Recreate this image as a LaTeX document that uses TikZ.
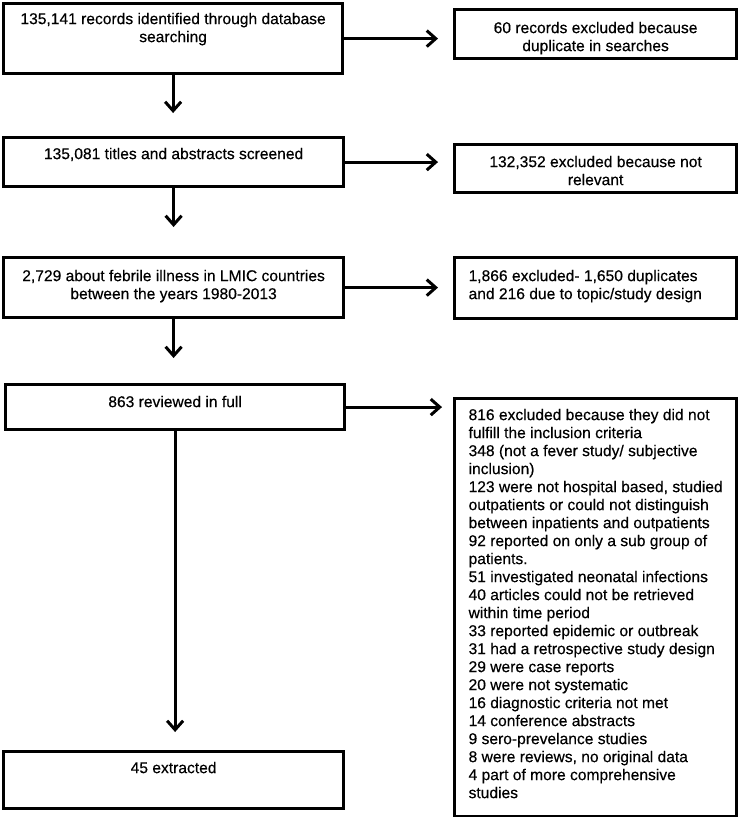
\documentclass[tikz,border=0pt]{standalone}
\usepackage{fontspec}
\setmainfont{Liberation Sans}[FakeBold=0.4]
\usetikzlibrary{arrows.meta}
\newcommand{\fs}{\fontsize{15.6pt}{18pt}\selectfont}
\newcommand{\bxc}[4]{\parbox[t][#2][t]{#1}{\vspace*{#3}\centering\strut #4}}
\newcommand{\bxl}[4]{\parbox[t][#2][t]{#1}{\vspace*{#3}\raggedright\leftskip=14pt\rightskip=-60pt plus 1fil\strut #4}}
\tikzset{
  box/.style={draw, line width=3.2pt, inner sep=0pt, anchor=north west, font=\fs},
  flow/.style={line width=3pt, -{Straight Barb[length=9pt,width=16pt]}},
}
\begin{document}
\begin{tikzpicture}[x=1pt,y=-1pt]
\useasboundingbox (0,0) rectangle (737,817);
% left column
\node[box] (b1) at (2,2) {\bxc{339pt}{70pt}{7.9pt}{135,141 records identified through database\\searching}};
\node[box] (b2) at (2,136) {\bxc{340pt}{49pt}{8.9pt}{135,081 titles and abstracts screened}};
\node[box] (b3) at (2,256) {\bxc{340pt}{60pt}{10.9pt}{2,729 about febrile illness in LMIC countries\\between the years 1980-2013}};
\node[box] (b4) at (4,383) {\bxc{339pt}{45pt}{9.9pt}{863 reviewed in full}};
\node[box] (b5) at (2,750) {\bxc{340pt}{57pt}{8.9pt}{45 extracted}};
% right column
\node[box] (r1) at (453,8) {\bxc{282pt}{49pt}{10.9pt}{60 records excluded because\\duplicate in searches}};
\node[box] (r2) at (453,143) {\bxc{282pt}{48pt}{9.9pt}{132,352 excluded because not\\relevant}};
\node[box] (r3) at (453,256) {\bxl{282pt}{61pt}{10.9pt}{1,866 excluded- 1,650 duplicates\\and 216 due to topic/study design}};
\node[box] (r4) at (453,397) {\bxl{282pt}{418pt}{8.9pt}{816 excluded because they did not\\
fulfill the inclusion criteria\\
348 (not a fever study/ subjective\\
inclusion)\\
123 were not hospital based, studied\\
outpatients or could not distinguish\\
between inpatients and outpatients\\
92 reported on only a sub group of\\
patients.\\
51 investigated neonatal infections\\
40 articles could not be retrieved\\
within time period\\
33 reported epidemic or outbreak\\
31 had a retrospective study design\\
29 were case reports\\
20 were not systematic\\
16 diagnostic criteria not met\\
14 conference abstracts\\
9 sero-prevelance studies\\
8 were reviews, no original data\\
4 part of more comprehensive\\
studies}};
% connectors
\draw[flow, shorten >=15pt] (b1.east) -- (b1.east -| r1.west);
\draw[flow, shorten >=23pt] (b1.south) -- (b1.south |- b2.north);
\draw[flow, shorten >=15pt] (b2.east) -- (b2.east -| r2.west);
\draw[flow, shorten >=29pt] (b2.south) -- (b2.south |- b3.north);
\draw[flow, shorten >=15pt] (b3.east) -- (b3.east -| r3.west);
\draw[flow, shorten >=25pt] (b3.south) -- (b3.south |- b4.north);
\draw[flow, shorten >=11pt] (b4.east) -- (b4.east -| r4.west);
\draw[flow, shorten >=18pt] (b4.south) -- (b4.south |- b5.north);
\end{tikzpicture}
\end{document}
